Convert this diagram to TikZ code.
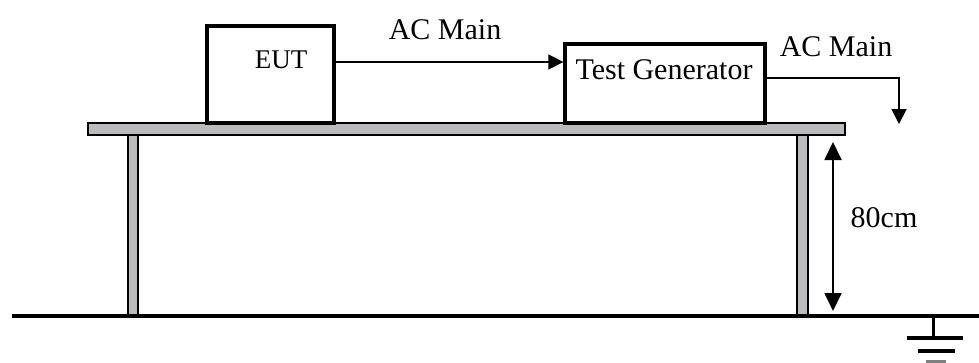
\documentclass[tikz,border=0pt]{standalone}
\usepackage{fontspec}
\setmainfont{Liberation Serif}
\usetikzlibrary{arrows.meta}
\definecolor{tablegray}{RGB}{187,187,190}

\begin{document}
\begin{tikzpicture}[x=1pt, y=-1pt,
  box/.style={draw, line width=3.4pt, minimum width=#1, inner sep=0pt},
  lbl/.style={font=\fontsize{30}{36}\selectfont, inner sep=0pt},
  conn/.style={line width=1.8pt, -{Triangle[length=15pt,width=15pt]}},
  wood/.style={draw, fill=tablegray, line width=1.3pt}]
\useasboundingbox (0,0) rectangle (979,362);
%\draw[help lines] (0,0) grid[step=50] (979,362);
\fill[white] (0,0) rectangle (979,362);
% table
\draw [wood] (128,135) rectangle (138,315);
\draw [wood] (797,135) rectangle (808,315);
\draw [wood] (88,123) rectangle (845,135);
\draw [line width=3.5pt] (12,316) -- (979,316);
% boxes on the table
\node [box=127pt, minimum height=97pt] (eut) at (270.5,74.5) {};
\node [box=200pt, minimum height=79pt] (tg) at (665,83.5) {};
\node [lbl, font=\fontsize{27}{32}\selectfont] (eutlbl) at (281,60) {EUT};
\node [lbl] (tglbl) at (664,70) {Test Generator};
\node [lbl] (acin) at (445,30) {AC Main};
\node [lbl] (acout) at (836,47) {AC Main};
\coordinate (outend) at (899,124);
\draw [conn] ([yshift=12.5pt]eut.east) -- ([yshift=12.5pt]eut.east -| tg.west);
\draw [conn] ([yshift=5.5pt]tg.east) -| (outend);
% height
\coordinate (htop) at (833,142);
\coordinate (hbot) at (833,311);
\draw [line width=1.8pt, {Triangle[length=18pt,width=17pt]}-{Triangle[length=18pt,width=17pt]}] (htop) -- (hbot);
\node [lbl] (height) at (884,218) {80cm};
% earth
\coordinate (gnd) at (933,316);
\draw [line width=3pt] (gnd) -- ++(0,22);
\draw [line width=4pt] (907,338) -- (963,338);
\draw [line width=4pt] (918,351) -- (955,351);
\draw [line width=4pt, gray] (926,362) -- (946,362);
\end{tikzpicture}
\end{document}
